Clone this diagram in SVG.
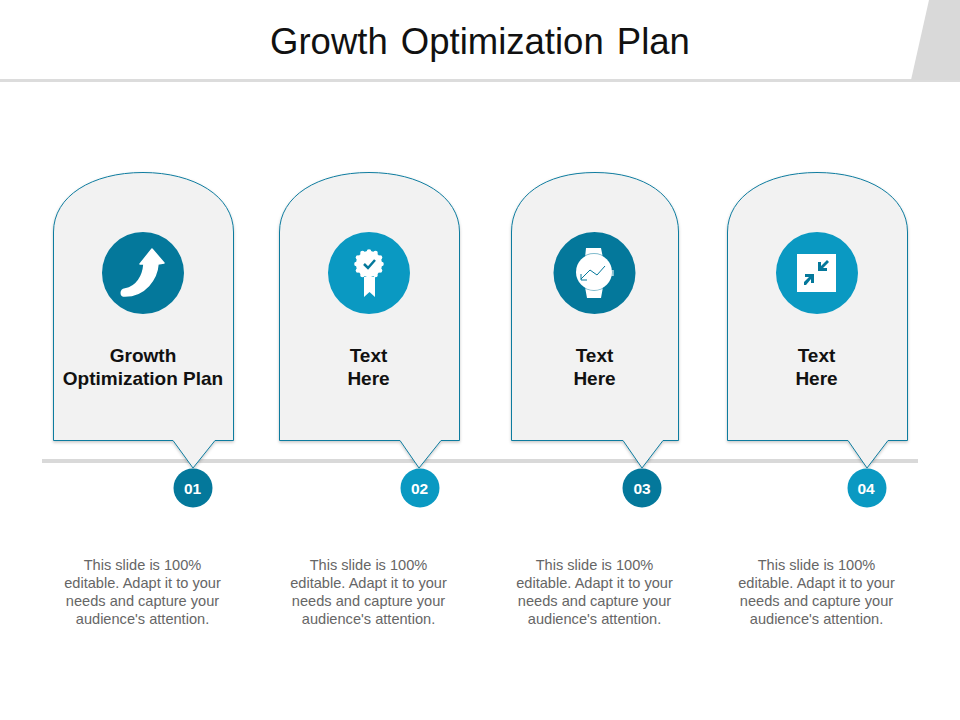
<svg xmlns="http://www.w3.org/2000/svg" width="960" height="720" viewBox="0 0 960 720">
<defs>
<filter id="sh" x="-10%" y="-10%" width="120%" height="120%"><feDropShadow dx="0" dy="1.500" stdDeviation="1.800" flood-color="#000" flood-opacity="0.22"/></filter>
</defs>
<style>
.card{fill:#f2f2f2;stroke:#0f7c9f;stroke-width:1;filter:url(#sh)}
.dark{fill:#04789b}
.light{fill:#0a99c2}
.ic{fill:#fff}
text{font-family:"Liberation Sans",Arial,sans-serif}
.title{font-size:36.500px;fill:#111;text-anchor:middle;word-spacing:3px}
.head{font-size:19px;font-weight:bold;fill:#111;text-anchor:middle}
.num{font-size:15.500px;font-weight:bold;fill:#fff;text-anchor:middle}
.body{font-size:14.600px;fill:#666;text-anchor:middle}
</style>
<rect width="960" height="720" fill="#fff"/>
<g id="header">
<rect x="0" y="79" width="960" height="3" fill="#dcdcdc"/>
<polygon points="929,0 960,0 960,80 911,80" fill="#d9d9d9"/>
<text class="title" x="480" y="54">Growth Optimization Plan</text>
</g>
<g id="connectors">
<rect x="42" y="459" width="876" height="4" fill="#d9d9d9"/>
</g>
<g id="node-1">
<path class="card" d="M53.500 232C53.500 196 92 172.500 143 172.500C194 172.500 233.500 196 233.500 232V440.500H215L193 468L173 440.500H53.500Z"/>
<circle class="dark" cx="143" cy="273" r="41"/>
<path d="M124 290C140 290 149 278 152 262" fill="none" stroke="#036a89" stroke-width="7" opacity="0.35" transform="translate(3,3)"/>
<path class="ic" d="M152 249L164 263L158 264C157 279 145 296 125 296C120 296 120 290 125 289C137 287 143 276 144 264L140 264Z" stroke="#fff" stroke-width="1.500" stroke-linejoin="round"/>
<text class="head" x="143" y="361.500">Growth</text>
<text class="head" x="143" y="384.500">Optimization Plan</text>
<circle class="dark" cx="193" cy="488" r="19.500"/>
<text class="num" x="192.500" y="493.500">01</text>
<text class="body" x="142.500" y="570">This slide is 100%</text>
<text class="body" x="142.500" y="588">editable. Adapt it to your</text>
<text class="body" x="142.500" y="606">needs and capture your</text>
<text class="body" x="142.500" y="624">audience's attention.</text>
</g>
<g id="node-2">
<path class="card" d="M279.500 232C279.500 196 318 172.500 369 172.500C420 172.500 459.500 196 459.500 232V440.500H441L419 468L400 440.500H279.500Z"/>
<circle class="light" cx="369" cy="273" r="41"/>
<path class="ic" d="M364 277H375V297L369.500 292L364 297Z"/>
<circle class="ic" cx="369" cy="264" r="13"/>
<g class="ic"><circle cx="369" cy="251.500" r="2.300"/><circle cx="375.500" cy="253" r="2.300"/><circle cx="380" cy="257.500" r="2.300"/><circle cx="381.500" cy="264" r="2.300"/><circle cx="380" cy="270.500" r="2.300"/><circle cx="375.500" cy="275" r="2.300"/><circle cx="369" cy="276.500" r="2.300"/><circle cx="362.500" cy="275" r="2.300"/><circle cx="358" cy="270.500" r="2.300"/><circle cx="356.500" cy="264" r="2.300"/><circle cx="358" cy="257.500" r="2.300"/><circle cx="362.500" cy="253" r="2.300"/></g>
<path d="M364 264L368 268L375 260" fill="none" stroke="#04789b" stroke-width="2.500"/>
<text class="head" x="368.500" y="361.500">Text</text>
<text class="head" x="368.500" y="384.500">Here</text>
<circle class="light" cx="420" cy="488" r="19.500"/>
<text class="num" x="419.500" y="493.500">02</text>
<text class="body" x="368.500" y="570">This slide is 100%</text>
<text class="body" x="368.500" y="588">editable. Adapt it to your</text>
<text class="body" x="368.500" y="606">needs and capture your</text>
<text class="body" x="368.500" y="624">audience's attention.</text>
</g>
<g id="node-3">
<path class="card" d="M511.500 232C511.500 196 545 172.500 595 172.500C645 172.500 678.500 196 678.500 232V440.500H663L642 468L623 440.500H511.500Z"/>
<circle class="dark" cx="594.500" cy="273" r="41"/>
<path class="ic" d="M586 248H601L603 258H585ZM585 287H603L601 298H587Z"/>
<rect class="ic" x="610" y="270" width="3.500" height="6"/>
<circle cx="594" cy="272" r="19" fill="#04789b" opacity="0.5"/>
<circle class="ic" cx="594" cy="272" r="18"/>
<path d="M581 279L590 270L597 275L605 266M581 274V280H587" fill="none" stroke="#04789b" stroke-width="1"/>
<text class="head" x="594.500" y="361.500">Text</text>
<text class="head" x="594.500" y="384.500">Here</text>
<circle class="dark" cx="642" cy="488" r="19.500"/>
<text class="num" x="642" y="493.500">03</text>
<text class="body" x="594.500" y="570">This slide is 100%</text>
<text class="body" x="594.500" y="588">editable. Adapt it to your</text>
<text class="body" x="594.500" y="606">needs and capture your</text>
<text class="body" x="594.500" y="624">audience's attention.</text>
</g>
<g id="node-4">
<path class="card" d="M727.500 232C727.500 196 766 172.500 817 172.500C868 172.500 907.500 196 907.500 232V440.500H888L867 468L848 440.500H727.500Z"/>
<circle class="light" cx="817" cy="273" r="41"/>
<rect class="ic" x="797" y="254" width="39" height="38"/>
<path d="M818 262V271H827V268H823L829 262L827 260L821 266V262Z" fill="#04789b"/>
<path d="M804 285V282L809 277H805V274H814V283H811V279L806 285Z" fill="#04789b"/>
<text class="head" x="816.500" y="361.500">Text</text>
<text class="head" x="816.500" y="384.500">Here</text>
<circle class="light" cx="867" cy="488" r="19.500"/>
<text class="num" x="866" y="493.500">04</text>
<text class="body" x="816.500" y="570">This slide is 100%</text>
<text class="body" x="816.500" y="588">editable. Adapt it to your</text>
<text class="body" x="816.500" y="606">needs and capture your</text>
<text class="body" x="816.500" y="624">audience's attention.</text>
</g>
</svg>
